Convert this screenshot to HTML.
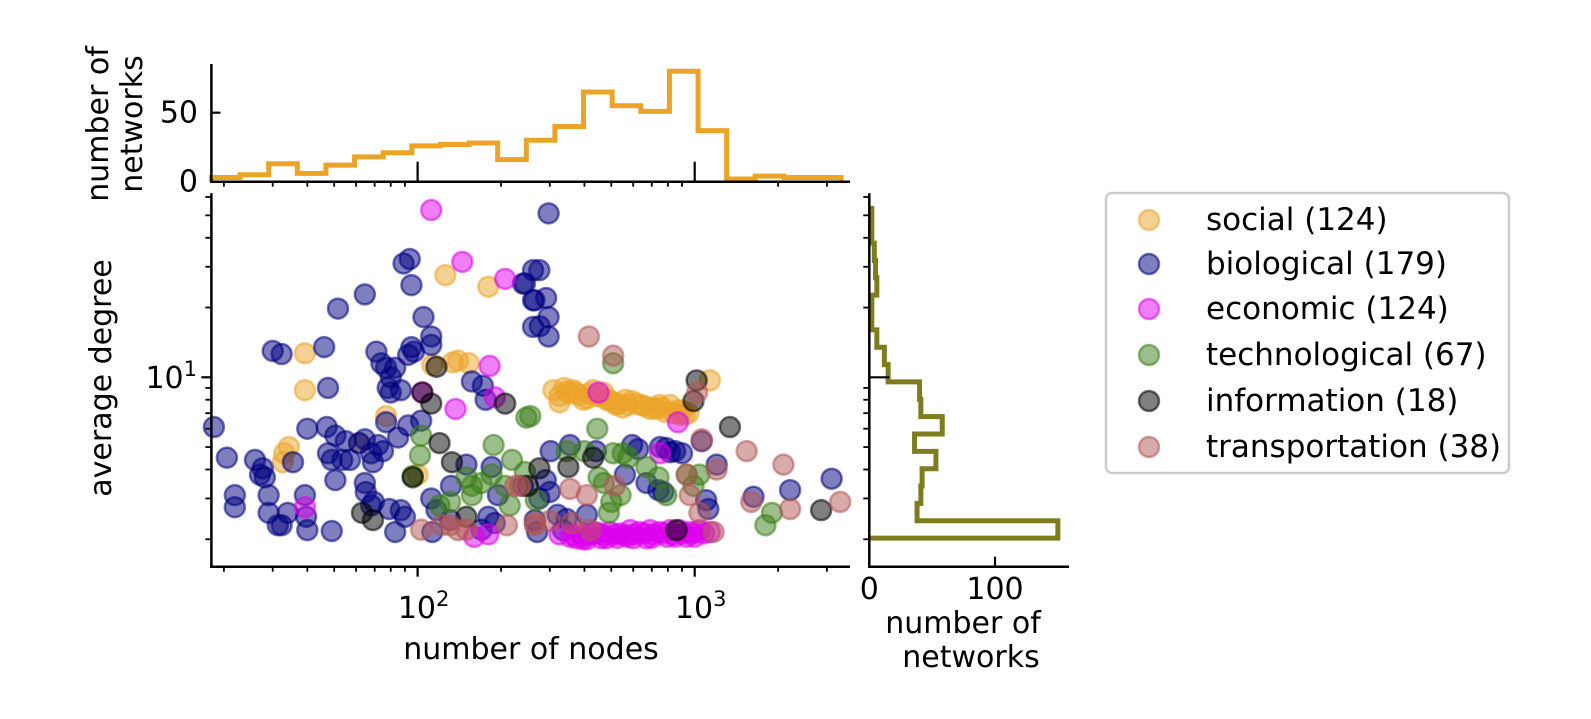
<!DOCTYPE html>
<html><head><meta charset="utf-8">
<style>
html,body{margin:0;padding:0;background:#fff;}
svg text{font-family:"DejaVu Sans","Liberation Sans",sans-serif;fill:#000;}
</style></head>
<body>
<svg id="chart" width="1591" height="714" viewBox="0 0 1591 714" xmlns="http://www.w3.org/2000/svg">
<g id="scatter"></g>
<g id="tophist"></g>
<g id="righthist"></g>
<g id="axes"></g>
<g>
  <rect x="1106" y="193" width="403" height="280" rx="6" fill="#fff" stroke="#cccccc" stroke-width="2.5"/>
  <g id="legendItems"></g>
</g>
<text x="531" y="659" font-size="30" text-anchor="middle">number of nodes</text>
<text transform="translate(111,378) rotate(-90)" font-size="30" text-anchor="middle">average degree</text>
<text transform="translate(108,124) rotate(-90)" font-size="30" text-anchor="middle">number of</text>
<text transform="translate(142,124) rotate(-90)" font-size="30" text-anchor="middle">networks</text>
<text x="963" y="633" font-size="30" text-anchor="middle">number of</text>
<text x="971" y="667" font-size="30" text-anchor="middle">networks</text>
</svg>
<script>
// ---- data ----
const categories = ["social (124)","biological (179)","economic (124)","technological (67)","information (18)","transportation (38)"];
const socialN = [126,180,39.2,39.2,34.3,33,32.6,61.5,77,113,140,153,134,100,309,325,325,364,384,408,430,468,508,550,595,640,710,760,815,870,900,355,396,520,1135,338,480,562,745,440,345,372,420,455,490,530,575,615,660,690,730,780,840,885,920,950];
const socialK = [27.6,24.6,12.7,8.8,5.0,4.7,4.3,5.2,6.8,11.3,11.8,11.5,11.6,3.8,8.8,8.3,7.8,8.8,8.4,8.1,8.8,8.6,7.8,7.4,7.9,7.6,7.4,7.4,7.6,7.2,7.2,8.5,8.0,7.6,9.7,9.0,8.0,8.0,7.6,8.3,8.7,8.6,8.5,8.3,8.0,7.7,7.6,7.7,7.5,7.3,7.3,7.1,7.0,6.9,6.9,7.0];
const bioN = [93.7,89,95,64.5,51.6,105,112,112,95,97,92.5,71,74,77,83,80,87,80,78,46,30,32.3,47.5,18.4,40,47,50.5,55,64.5,61.5,72,75,68,69,85,92.5,103,77,47.5,49,53.5,57,50.5,64.5,65,69.5,68,79,87,90,112,117,131,113,83,20.5,25.9,27.6,28.1,27,21.9,21.9,29,29,31.3,32.3,34,39.2,39.6,40,49,35.5,132,150,157,172,176,190,180,170,195,185,244,261,261,261,297,275,240,264,291,297,276,297,302,355,440,595,625,750,790,850,900,1060,1200,290,240,300,265,320,345,408,270,335,740,770,670,1100,1120,1630,2210,3120,560,815,275];
const bioK = [32.4,31,25,22.8,19.8,18.2,15,13.8,13.5,12.9,12.5,12.9,11.5,11.0,11,10,8.8,8.6,9,13.5,13.0,12.6,9.0,6.1,6.0,6.1,5.6,5.3,5.4,5.2,5.1,4.8,4.7,4.3,5.5,6.2,6.5,6.4,4.7,4.4,4.4,4.4,3.6,3.5,3.2,2.9,2.8,2.7,2.67,2.5,3.0,2.67,2.42,2.15,2.15,4.5,4.4,4.05,3.7,3.8,3.1,2.75,3.1,2.6,2.3,2.3,2.6,3.1,2.5,2.19,2.17,4.3,3.4,4.2,9.6,9.2,8.0,2.35,2.5,2.2,3.1,4.1,25.4,29,21.5,16.5,51,29,25.4,21.5,22,18.2,16.6,15,4.8,5.1,4.8,5.1,4.9,5.0,4.95,4.8,4.7,5.3,4.2,3.6,3.4,3.2,2.42,2.55,2.45,2.55,2.15,2.19,3.26,3.2,3.5,2.95,2.7,3.05,3.26,3.65,3.8,4.75,3.0];
const econN = [112,145,207,182,190,137,39.2,104,160,180,450,870,750,355,385,420,455,495,538,585,630,690,745,815,880,960,1040,1135,408,480,570,670,795,936,375,325,365,400,440,470,515,560,605,655,710,770,840,910,990,1080,395,460,525,600,700,850,1000];
const econK = [52.7,31.5,26.6,11.2,8.2,7.3,2.75,8.6,2.05,2.1,8.6,6.4,4.7,2.05,2.12,2.1,2.12,2.15,2.12,2.19,2.15,2.19,2.15,2.19,2.19,2.15,2.19,2.15,2.0,2.02,2.05,2.02,2.05,2.05,2.02,2.1,2.08,2.06,2.14,2.08,2.1,2.08,2.1,2.12,2.1,2.12,2.1,2.12,2.12,2.12,2.0,2.02,2.03,2.02,2.03,2.05,2.05];
const techN = [103,102,96,120,131,188,219,247,150,157,157,170,185,207,215,244,255,508,445,345,400,508,550,575,670,740,450,470,540,500,490,267,1040,990,936,790,1900,1800];
const techK = [5.6,4.6,3.75,2.8,2.9,5.1,4.4,6.7,3.7,3.4,3.1,3.5,3.8,3.4,2.8,3.9,6.8,11.5,6.0,4.8,4.8,4.7,4.7,4.5,4.1,3.7,3.7,3.5,3.1,2.9,2.6,2.95,3.8,3.4,3.8,3.1,2.6,2.3];
const infoN = [104,112,207,117,120,133,63,69,96,150,250,1016,990,1340,430,350,275,2860,860];
const infoK = [8.6,7.7,7.7,11.1,5.2,4.3,2.6,2.42,3.7,2.5,3.4,9.7,7.9,6.1,4.5,4.1,4.05,2.67,2.19];
const transN = [103,122,140,150,131,210,225,265,415,508,1020,1060,1540,2090,1200,936,960,1040,1600,2210,3350,1170,355,408,515,265,300,360,420,234];
const transK = [2.2,2.3,2.19,2.2,2.3,2.3,3.4,2.3,15.0,12.4,8.6,5.4,4.8,4.2,4.0,3.8,3.1,2.6,2.9,2.7,2.9,2.15,3.3,3.1,3.4,2.35,2.4,2.35,2.19,3.4];
const topBinStartLog = 1.256;
const topBinStepLog = 0.1033;
const topCounts = [3,5,13,6,12,18,21,26,27,28,16,30,40,65,55,51,80,37,2,4,3,3];
const rightBinTopLog = 1.729;
const rightBinStepLog = 0.0749;
const rightCounts = [2,2,4,5,6,2,2,6,12,15,40,41,58,36,53,42,41,38,150];
const xTickLabels = ["2","3"];
const topYTicks = [0,50];
const rightXTicks = [0,100];

const NS = "http://www.w3.org/2000/svg";
const xs = n => 417.6 + (Math.log10(n) - 2) * 277.1;
const ys = k => 377.3 - (Math.log10(k) - 1) * 231.7;
const yTop = c => 181.7 - c * 1.38;
const xRight = c => 869.3 + c * 1.257;
const X0 = 211.4, X1 = 850, Y0 = 193.3, Y1 = 566.7;

function mk(tag, attrs, parent){
  const e = document.createElementNS(NS, tag);
  for (const k in attrs) e.setAttribute(k, attrs[k]);
  parent.appendChild(e);
  return e;
}

const colors = ["#eba428","#000080","#dd00ee","#3a7d15","#000000","#b35555"];
const seriesN = [socialN,bioN,econN,techN,infoN,transN];
const seriesK = [socialK,bioK,econK,techK,infoK,transK];
const names = ["social","biological","economic","technological","information","transportation"];
const sc = document.getElementById("scatter");
seriesN.forEach((arr, s) => {
  arr.forEach((n, i) => {
    const c = mk("circle", {cx: xs(n), cy: ys(seriesK[s][i]), r: 10, fill: colors[s], "fill-opacity": 0.5, stroke: colors[s], "stroke-opacity": 0.55, "stroke-width": 2.5}, sc);
    
    
  });
});

const th = document.getElementById("tophist");
{
  let d = "";
  topCounts.forEach((c, i) => {
    const xa = xs(Math.pow(10, topBinStartLog + i * topBinStepLog));
    const xb = xs(Math.pow(10, topBinStartLog + (i + 1) * topBinStepLog));
    const y = yTop(c);
    d += (i === 0 ? "M" + xa + "," + yTop(0) + " L" + xa + "," + y : " L" + xa + "," + y) + " L" + xb + "," + y;
    if (i === topCounts.length - 1) d += " L" + xb + "," + yTop(0);
  });
  const p = mk("path", {d: d, fill: "none", stroke: "#eba428", "stroke-width": 5}, th);
  
  
}

const rh = document.getElementById("righthist");
{
  let d = "";
  rightCounts.forEach((c, i) => {
    const ya = ys(Math.pow(10, rightBinTopLog - i * rightBinStepLog));
    const yb = ys(Math.pow(10, rightBinTopLog - (i + 1) * rightBinStepLog));
    const x = xRight(c);
    d += (i === 0 ? "M" + xRight(0) + "," + ya + " L" + x + "," + ya : " L" + x + "," + ya) + " L" + x + "," + yb;
    if (i === rightCounts.length - 1) d += " L" + xRight(0) + "," + yb;
  });
  const p = mk("path", {d: d, fill: "none", stroke: "#7d7d1e", "stroke-width": 5}, rh);
  
  
}

const ax = document.getElementById("axes");
function line(x1,y1,x2,y2,w,name){
  const l = mk("line", {x1:x1,y1:y1,x2:x2,y2:y2,stroke:"#000","stroke-width":w}, ax);
  
  
  return l;
}
line(X0, Y0, X0, Y1+1.2, 2.5, 'main-y-axis');
line(X0-1.2, Y1, X1, Y1, 2.5, 'main-x-axis');
const minorX = [];
for (let dec = 10; dec <= 1000; dec *= 10) for (let m = 2; m <= 9; m++) minorX.push(m*dec);
minorX.forEach(v => { const x = xs(v); if (x > X0 && x < X1) line(x, Y1, x, Y1+5, 1.8, 'x-minor-tick'); });
[100,1000].forEach(v => { line(xs(v), Y1, xs(v), Y1+10, 2.2, 'x-major-tick'); });
[2,3,4,5,6,7,8,9,20,30,40,50,60].forEach(v => { line(X0-6, ys(v), X0, ys(v), 1.8, 'y-minor-tick'); });
line(X0-10, ys(10), X0, ys(10), 2.2, 'y-major-tick');
function supText(x, y, base, sup, anchor, name){
  const t = mk("text", {x:x, y:y, "font-size":30, "text-anchor":anchor}, ax);
  
  
  t.appendChild(document.createTextNode(base));
  const s = mk("tspan", {dy:-12, "font-size":21}, t);
  s.textContent = sup;
  return t;
}
supText(xs(100)+6, 618, "10", xTickLabels[0], "middle", 'x-tick-label-100');
supText(xs(1000)+6, 618, "10", xTickLabels[1], "middle", 'x-tick-label-1000');
supText(197, 388, "10", "1", "end", 'y-tick-label-10');

line(X0, 64, X0, yTop(0)+1.2, 2.5, 'top-hist-y-axis');
line(X0-1.2, yTop(0), X1, yTop(0), 2.5, 'top-hist-x-axis');
[100,1000].forEach(v => line(xs(v), yTop(0), xs(v), yTop(0)-20, 2.2, 'top-hist-x-major-tick'));
minorX.forEach(v => { const x = xs(v); if (x > X0 && x < X1) line(x, yTop(0), x, yTop(0)+5, 1.8, 'top-hist-x-minor-tick'); });
topYTicks.forEach(v => {
  line(X0, yTop(v), X0+9, yTop(v), 2.2, 'top-hist-y-tick');
  const t = mk("text", {x:198, y:yTop(v)+10, "font-size":30, "text-anchor":"end"}, ax);
  
  
  t.textContent = String(v);
});

line(xRight(0), Y0, xRight(0), Y1+1.2, 2.5, 'right-hist-y-axis');
line(xRight(0)-1.2, Y1, 1069, Y1, 2.5, 'right-hist-x-axis');
[2,3,4,5,6,7,8,9,20,30,40,50,60].forEach(v => line(xRight(0)-6, ys(v), xRight(0), ys(v), 1.8, 'right-hist-y-minor-tick'));
line(xRight(0), ys(10), xRight(0)+20, ys(10), 2.2, 'right-hist-y-major-tick');
rightXTicks.forEach(v => {
  if (v > 0) line(xRight(v), Y1, xRight(v), Y1-10, 2.2, 'right-hist-x-tick');
  const t = mk("text", {x:xRight(v), y:599, "font-size":30, "text-anchor":"middle"}, ax);
  
  
  t.textContent = String(v);
});

const lg = document.getElementById("legendItems");
const rowY = [220,264,309,355,401,447];
categories.forEach((lab, i) => {
  const g = mk("g", {}, lg);
  
  
  mk("circle", {cx:1149, cy:rowY[i], r:10, fill:colors[i], "fill-opacity":0.5, stroke:colors[i], "stroke-opacity":0.55, "stroke-width":2.5}, g);
  const t = mk("text", {x:1206, y:rowY[i]+10, "font-size":31}, g);
  t.textContent = lab;
});
</script>
</body></html>
